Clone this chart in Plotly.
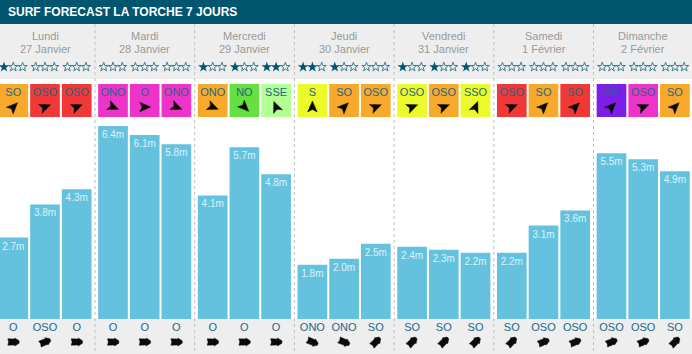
import math
import plotly.graph_objects as go

title = "SURF FORECAST LA TORCHE 7 JOURS"
weekdays = ["Lundi", "Mardi", "Mercredi", "Jeudi", "Vendredi", "Samedi", "Dimanche"]
dates = ["27 Janvier", "28 Janvier", "29 Janvier", "30 Janvier", "31 Janvier", "1 Février", "2 Février"]
heights = [2.7, 3.8, 4.3, 6.4, 6.1, 5.8, 4.1, 5.7, 4.8, 1.8, 2.0, 2.5,
           2.4, 2.3, 2.2, 2.2, 3.1, 3.6, 5.5, 5.3, 4.9]
stars = [1, 0, 0, 0, 0, 0, 1, 1, 2, 2, 1, 0, 1, 1, 1, 0, 0, 0, 0, 0, 0]
swell_dir = ["SO", "OSO", "OSO", "ONO", "O", "ONO", "ONO", "NO", "SSE", "S", "SO", "OSO",
             "OSO", "OSO", "SSO", "OSO", "SO", "SO", "SO", "OSO", "SO"]
wind_dir = ["O", "OSO", "O", "O", "O", "O", "O", "O", "O", "ONO", "ONO", "SO",
            "SO", "SO", "SO", "SO", "OSO", "OSO", "OSO", "OSO", "SO"]
tile_class = ["orange", "red", "red", "magenta", "magenta", "magenta", "orange", "green", "lime",
              "yellow", "orange", "orange", "yellow", "orange", "yellow", "red", "orange", "red",
              "purple", "magenta", "orange"]

# ---- styles and layout ----
W, H = 692, 354
palette = {"orange": "#F8A92B", "red": "#F23737", "magenta": "#EE34C8", "green": "#66E040",
           "lime": "#B2FF94", "yellow": "#EBFA29", "purple": "#7D1DE8"}
TEAL = "#00566E"
BAND = "#EEEEEE"
BAR = "#64C2DE"
TEXT = "#1C6784"
FONT = "Liberation Sans, Arial, sans-serif"
BASE_PX = 319
PX_PER_M = 30.15
BEARING = {"S": 180, "SSO": 202.5, "SO": 225, "OSO": 247.5, "O": 270, "ONO": 292.5, "NO": 315, "SSE": 157.5}

def cx(i):
    return 13.3 + 99.7 * (i // 3) + 31.7 * (i % 3)

def day_cx(d):
    return cx(3 * d + 1)

xs = [cx(i) for i in range(len(heights))]

def polys(directions, shape, ypx):
    px, py = [], []
    for x0, d in zip(xs, directions):
        a = math.radians(BEARING[d] + 180)
        for u, v in shape:  # u: along heading, v: to its right
            px.append(x0 + u * math.sin(a) + v * math.cos(a))
            py.append(ypx - u * math.cos(a) + v * math.sin(a))
        px.append(None)
        py.append(None)
    return px, py

nav_arrow = [(6, 0), (-5, -4.8), (-2.5, 0), (-5, 4.8), (6, 0)]
wind_arrow = [(5.8, -1.2), (5.8, 1.2), (1.5, 4), (1.5, 3), (-5.5, 3.2), (-4.6, 0), (-5.5, -3.2),
              (1.5, -3), (1.5, -4), (5.8, -1.2)]

fig = go.Figure()
fig.add_bar(x=xs, y=heights, width=29.7, marker=dict(color=BAR, line_width=0), yaxis="y")
fig.add_scatter(x=xs, y=[v - 4.5 / PX_PER_M for v in heights], mode="text", text=[f"{v:.1f}m" for v in heights],
                textposition="bottom center", textfont=dict(family=FONT, size=10, color="#DDF3FA"),
                yaxis="y", cliponaxis=False)
fig.add_bar(x=xs, y=[33] * len(xs), base=[84] * len(xs), width=29.7,
            marker=dict(color=[palette[c] for c in tile_class], line_width=0), yaxis="y2")
fig.add_scatter(x=xs, y=[93] * len(xs), mode="text", text=swell_dir,
                textfont=dict(family=FONT, size=11, color=TEXT), yaxis="y2", cliponaxis=False)
fig.add_scatter(x=xs, y=[328] * len(xs), mode="text", text=wind_dir,
                textfont=dict(family=FONT, size=11, color=TEXT), yaxis="y2", cliponaxis=False)
ax, ay = polys(swell_dir, nav_arrow, 107)
fig.add_scatter(x=ax, y=ay, mode="lines", fill="toself", fillcolor="#0A0A0A",
                line=dict(color="#0A0A0A", width=0.5), yaxis="y2")
ax, ay = polys(wind_dir, wind_arrow, 342)
fig.add_scatter(x=ax, y=ay, mode="lines", fill="toself", fillcolor="#0A0A0A",
                line=dict(color="#0A0A0A", width=0.5), yaxis="y2")

full_x, full_y, open_x, open_y = [], [], [], []
for x0, n in zip(xs, stars):
    for s in range(3):
        (full_x if s < n else open_x).append(x0 + (s - 1) * 9.3)
        (full_y if s < n else open_y).append(67)
fig.add_scatter(x=open_x, y=open_y, mode="markers", yaxis="y2", cliponaxis=False,
                marker=dict(symbol="star-open", size=7, color="#3F8098", line=dict(color="#3F8098", width=1)))
fig.add_scatter(x=full_x, y=full_y, mode="markers", yaxis="y2", cliponaxis=False,
                marker=dict(symbol="star", size=8, color=TEAL, line_width=0))

shapes = [
    dict(type="rect", xref="x", yref="y2", x0=0, x1=W, y0=0, y1=24, fillcolor=TEAL, line_width=0, layer="below"),
    dict(type="rect", xref="x", yref="y2", x0=0, x1=W, y0=24, y1=79, fillcolor=BAND, line_width=0, layer="below"),
    dict(type="rect", xref="x", yref="y2", x0=0, x1=W, y0=BASE_PX, y1=H, fillcolor=BAND, line_width=0, layer="below"),
]
for d in range(1, 7):
    sx = day_cx(d) - 50 + 0.3
    shapes.append(dict(type="line", xref="x", yref="y2", x0=sx, x1=sx, y0=24, y1=H, layer="below",
                       line=dict(color="#BDBDBD", width=1, dash="3px,3px")))

annotations = [dict(x=8, y=12, xref="x", yref="y2", xanchor="left", yanchor="middle", text=title, borderpad=0,
                    borderwidth=0, showarrow=False,
                    font=dict(family=FONT, size=12, color="white", weight="bold"))]
for d, (wd, dt) in enumerate(zip(weekdays, dates)):
    annotations.append(dict(x=day_cx(d), y=35.5, xref="x", yref="y2", text=wd, showarrow=False,
                            font=dict(family=FONT, size=11, color="#999999")))
    annotations.append(dict(x=day_cx(d), y=48.5, xref="x", yref="y2", text=dt, showarrow=False,
                            font=dict(family=FONT, size=11, color="#999999")))

fig.update_layout(
    width=W, height=H, margin=dict(l=0, r=0, t=0, b=0), autosize=False,
    paper_bgcolor="white", plot_bgcolor="white", showlegend=False, barmode="overlay",
    hovermode=False, shapes=shapes, annotations=annotations,
    xaxis=dict(range=[0, W], visible=False, fixedrange=True),
    yaxis=dict(range=[(BASE_PX - H) / PX_PER_M, BASE_PX / PX_PER_M], visible=False, fixedrange=True),
    yaxis2=dict(range=[H, 0], overlaying="y", visible=False, fixedrange=True),
)
fig.write_html("out.html", config={"displayModeBar": False},
               post_script="document.body.style.margin='0';document.body.style.overflow='hidden';")
